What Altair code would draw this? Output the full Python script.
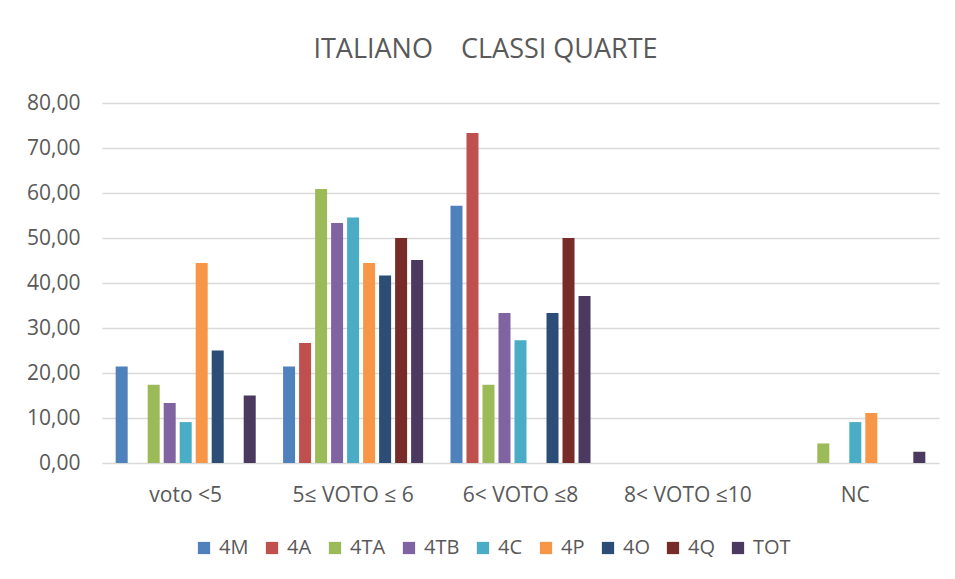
import altair as alt
import pandas as pd

categories = ["voto <5", "5\u2264 VOTO \u2264 6", "6< VOTO \u22648", "8< VOTO \u226410", "NC"]
series = ["4M", "4A", "4TA", "4TB", "4C", "4P", "4O", "4Q", "TOT"]
colors = ["#4F81BD", "#C0504D", "#9BBB59", "#8064A2", "#4BACC6", "#F79646", "#2C4D75", "#772C2A", "#4B3960"]

v_4M = [21.43, 21.43, 57.14, 0.0, 0.0]
v_4A = [0.0, 26.67, 73.33, 0.0, 0.0]
v_4TA = [17.39, 60.87, 17.39, 0.0, 4.35]
v_4TB = [13.33, 53.33, 33.33, 0.0, 0.0]
v_4C = [9.09, 54.55, 27.27, 0.0, 9.09]
v_4P = [44.44, 44.44, 0.0, 0.0, 11.11]
v_4O = [25.00, 41.67, 33.33, 0.0, 0.0]
v_4Q = [0.0, 50.00, 50.00, 0.0, 0.0]
v_TOT = [15.00, 45.10, 37.10, 0.0, 2.50]

values = [v_4M, v_4A, v_4TA, v_4TB, v_4C, v_4P, v_4O, v_4Q, v_TOT]

rows = []
for s, vals in zip(series, values):
    for c, v in zip(categories, vals):
        rows.append({"categoria": c, "classe": s, "valore": v})
df = pd.DataFrame(rows)

FONT = "Open Sans"
GREY = "#595959"

chart = alt.Chart(df).mark_bar().encode(
    x=alt.X("categoria:N", sort=categories, title=None,
            scale=alt.Scale(paddingInner=0, paddingOuter=0),
            axis=alt.Axis(labelAngle=0, ticks=False, domain=False, labelPadding=21,
                          labelFontSize=21, labelFont=FONT, labelColor=GREY)),
    xOffset=alt.XOffset("classe:N", sort=series,
                        scale=alt.Scale(paddingInner=0.25, paddingOuter=0.855)),
    y=alt.Y("valore:Q", title=None,
            scale=alt.Scale(domain=[0, 80], nice=False),
            axis=alt.Axis(values=[0, 10, 20, 30, 40, 50, 60, 70, 80],
                          labelExpr="replace(format(datum.value, '.2f'), '.', ',')",
                          ticks=False, domain=False, labelPadding=22,
                          labelFontSize=21, labelFont=FONT, labelColor=GREY,
                          gridColor="#D9D9D9", gridWidth=1.5)),
    color=alt.Color("classe:N", sort=series,
                    scale=alt.Scale(domain=series, range=colors),
                    legend=alt.Legend(title=None, orient="none", direction="horizontal",
                                      columns=9, legendX=92, legendY=435,
                                      symbolType="square", symbolSize=150,
                                      symbolStrokeWidth=0, labelOffset=5,
                                      columnPadding=13, labelFontSize=20,
                                      labelFont=FONT, labelColor=GREY)),
).properties(
    width=837,
    height=360,
    background="white",
    title=alt.TitleParams("ITALIANO\u00a0\u00a0\u00a0\u00a0CLASSI QUARTE", fontSize=27, font=FONT,
                          fontWeight="normal", color=GREY, anchor="middle", dx=-35, offset=28),
    padding={"left": 94, "top": 95, "right": 8, "bottom": 98},
    autosize=alt.AutoSizeParams(type="none"),
).configure_view(stroke=None)

chart.save("out.html", embed_options={"renderer": "svg", "actions": False})
